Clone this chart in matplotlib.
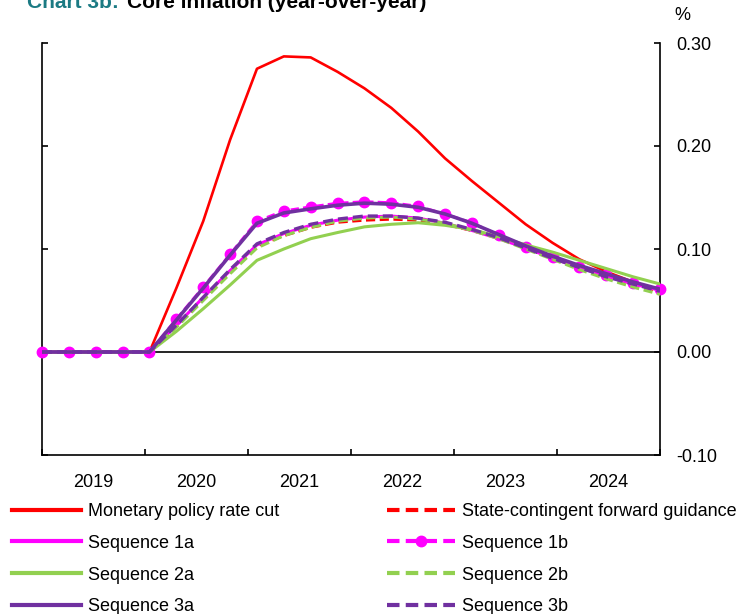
import numpy as np
import matplotlib
matplotlib.use('Agg')
import matplotlib.pyplot as plt

plt.rcParams['font.family'] = ['Liberation Sans', 'DejaVu Sans']

# quarterly data, 2019Q1 - 2024Q4 (deviation, %)
years = ['2019', '2020', '2021', '2022', '2023', '2024']
quarters = np.arange(24)

mp_cut = [0, 0, 0, 0, 0, 0.062, 0.127, 0.206, 0.275, 0.287, 0.286, 0.272,
          0.256, 0.237, 0.214, 0.188, 0.166, 0.145, 0.124, 0.106, 0.090, 0.078, 0.068, 0.060]
scfg = [0, 0, 0, 0, 0, 0.025, 0.052, 0.078, 0.103, 0.113, 0.121, 0.126,
        0.128, 0.129, 0.128, 0.124, 0.118, 0.111, 0.102, 0.092, 0.083, 0.074, 0.066, 0.059]
seq1a = [0, 0, 0, 0, 0, 0.026, 0.053, 0.079, 0.104, 0.115, 0.123, 0.128,
         0.131, 0.132, 0.130, 0.125, 0.118, 0.110, 0.101, 0.091, 0.082, 0.074, 0.066, 0.060]
seq1b = [0, 0, 0, 0, 0, 0.032, 0.063, 0.095, 0.127, 0.137, 0.141, 0.1445,
         0.146, 0.145, 0.1415, 0.134, 0.1255, 0.1135, 0.102, 0.092, 0.083, 0.075, 0.067, 0.061]
seq2a = [0, 0, 0, 0, 0, 0.020, 0.042, 0.065, 0.089, 0.100, 0.110, 0.116,
         0.1215, 0.124, 0.1255, 0.123, 0.119, 0.112, 0.104, 0.097, 0.089, 0.081, 0.073, 0.066]
seq2b = [0, 0, 0, 0, 0, 0.024, 0.050, 0.076, 0.101, 0.113, 0.121, 0.127,
         0.130, 0.131, 0.129, 0.125, 0.118, 0.110, 0.100, 0.090, 0.080, 0.071, 0.063, 0.056]
seq3a = [0, 0, 0, 0, 0, 0.031, 0.062, 0.094, 0.125, 0.135, 0.139, 0.1425,
         0.1445, 0.1435, 0.1405, 0.134, 0.125, 0.114, 0.103, 0.093, 0.084, 0.076, 0.068, 0.061]
seq3b = [0, 0, 0, 0, 0, 0.026, 0.053, 0.080, 0.105, 0.116, 0.124, 0.129,
         0.132, 0.132, 0.130, 0.126, 0.119, 0.111, 0.101, 0.091, 0.082, 0.073, 0.066, 0.059]

RED = '#FF0000'
MAGENTA = '#FF00FF'
GREEN = '#92D050'
PURPLE = '#7030A0'
TEAL = '#1B7A83'

fig = plt.figure(figsize=(7.49, 6.14), dpi=100)
ax = fig.add_axes([42 / 749, 1 - 455 / 614, (660 - 42) / 749, (455 - 43) / 614])

dash = (3, 1.5)
h_mp, = ax.plot(quarters, mp_cut, color=RED, lw=1.9, zorder=3)
h_scfg, = ax.plot(quarters, scfg, color=RED, lw=2.2, dashes=dash, zorder=4)
h_1a, = ax.plot(quarters, seq1a, color=MAGENTA, lw=2.2, zorder=4)
h_1b, = ax.plot(quarters, seq1b, color=MAGENTA, lw=2.0, dashes=dash,
                marker='o', markersize=7.5, clip_on=False, zorder=5)
h_2a, = ax.plot(quarters, seq2a, color=GREEN, lw=2.2, zorder=5)
h_2b, = ax.plot(quarters, seq2b, color=GREEN, lw=2.2, dashes=dash, zorder=5)
h_3a, = ax.plot(quarters, seq3a, color=PURPLE, lw=2.6, zorder=6)
h_3b, = ax.plot(quarters, seq3b, color=PURPLE, lw=2.4, dashes=dash, zorder=6)

ax.axhline(0, color='black', lw=1.2, zorder=2)

ax.set_xlim(0, 23)
ax.set_ylim(-0.10, 0.30)
ax.set_yticks([-0.10, 0.00, 0.10, 0.20, 0.30])
ax.set_yticklabels(['-0.10', '0.00', '0.10', '0.20', '0.30'])

year_w = 23 / len(years)
ax.set_xticks([year_w * k for k in range(len(years) + 1)])
ax.set_xticklabels([])
ax.set_xticks([year_w * (k + 0.5) for k in range(len(years))], minor=True)
ax.set_xticklabels(years, minor=True)

ax.spines['top'].set_visible(False)
for s in ['left', 'right', 'bottom']:
    ax.spines[s].set_linewidth(1.2)
ax.tick_params(axis='y', which='both', left=True, right=True, direction='in',
               labelleft=False, labelright=True, length=4, width=1.2,
               labelsize=13, pad=12)
ax.tick_params(axis='x', which='major', direction='in', length=4, width=1.2)
ax.tick_params(axis='x', which='minor', length=0, labelsize=13, pad=14)

fig.text(682 / 749, 1 - 16 / 614, '%', fontsize=13, ha='center', va='center')
fig.text(27 / 749, 1 - 8 / 614, 'Chart 3b:', fontsize=15, fontweight='bold',
         color=TEAL, ha='left', va='baseline')
fig.text(127 / 749, 1 - 8 / 614, 'Core inflation (year-over-year)', fontsize=15,
         fontweight='bold', color='black', ha='left', va='baseline')

handles = [h_mp, h_1a, h_2a, h_3a, h_scfg, h_1b, h_2b, h_3b]
labels = ['Monetary policy rate cut', 'Sequence 1a', 'Sequence 2a', 'Sequence 3a',
          'State-contingent forward guidance', 'Sequence 1b', 'Sequence 2b', 'Sequence 3b']
leg = fig.legend(handles, labels, ncol=2, loc='upper left',
                 bbox_to_anchor=(12 / 749, 1 - 503 / 614), frameon=False,
                 fontsize=13, handlelength=3.8, handletextpad=0.4,
                 columnspacing=5.95, labelspacing=0.82, borderpad=0, borderaxespad=0)
for line in leg.get_lines():
    line.set_linewidth(3)

fig.savefig('out.png', dpi=100)
